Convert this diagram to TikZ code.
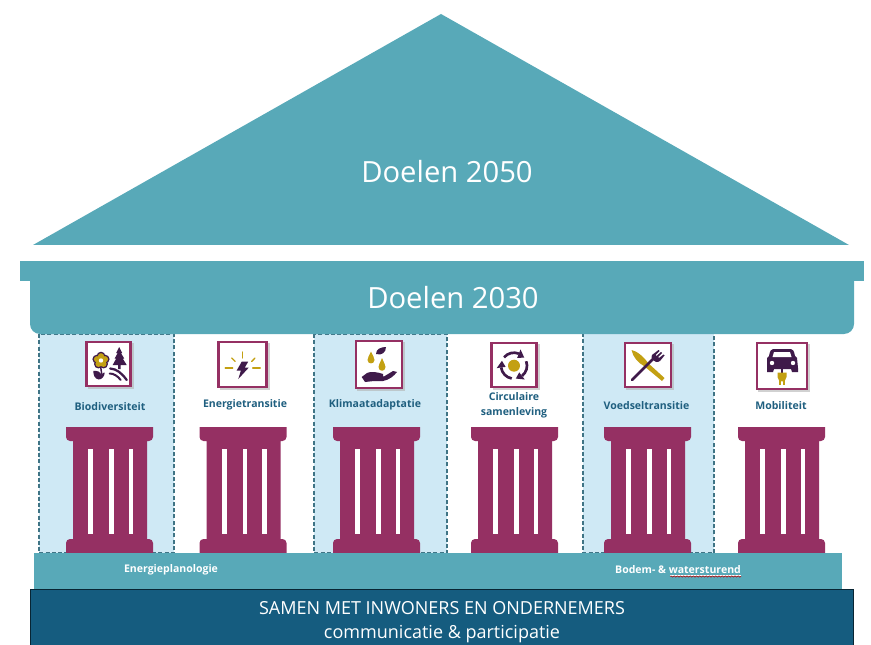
\documentclass[tikz,border=0pt]{standalone}
\usepackage{fontspec}
\setmainfont{Open Sans}
\usetikzlibrary{decorations.pathmorphing}
\definecolor{teal}{HTML}{58A9B8}
\definecolor{deepblue}{HTML}{155C7F}
\definecolor{panelblue}{HTML}{CFE9F5}
\definecolor{plum}{HTML}{953063}
\definecolor{inkplum}{HTML}{3F1A4A}
\definecolor{gold}{HTML}{C3A012}
\definecolor{labelblue}{HTML}{1F5F7F}
\definecolor{dashblue}{HTML}{3F7485}
\tikzset{
  x=0.75pt,y=-0.75pt,
  titletext/.style={text=white,inner sep=0,font=\fontsize{21.9}{26}\selectfont},
  pillarlabel/.style={text=labelblue,inner sep=0,align=center,font=\fontsize{7.9}{11.4}\selectfont\bfseries},
  baselabel/.style={text=white,inner sep=0,font=\fontsize{7.9}{9}\selectfont\bfseries},
  bandtext/.style={text=white,inner sep=0,font=\fontsize{13.5}{16}\selectfont},
  panel/.style={fill=panelblue,draw=dashblue,line width=0.8pt,dash pattern=on 3pt off 1.7pt},
  iconbox/.style={fill=white,draw=plum,line width=2.1pt},
  ink/.style={fill=inkplum,draw=none},
  goldfill/.style={fill=gold,draw=none},
  goldline/.style={draw=gold,line width=1pt,line cap=round},
  inkline/.style={draw=inkplum,line cap=round},
}
\newcommand{\columnshape}[1]{%
  \begin{scope}[shift={(#1,0)}]
    \fill[plum] (0,427) -- (87,427) -- (87,437) arc[start angle=0,end angle=90,radius=4] -- (81,441) -- (81,539) -- (83,539) arc[start angle=-90,end angle=0,radius=4] -- (87,553) -- (0,553) -- (0,543) arc[start angle=180,end angle=270,radius=4] -- (7,539) -- (7,441) -- (4,441) arc[start angle=90,end angle=180,radius=4] -- cycle;
    \fill[white] (22,449) rectangle (27,534);
    \fill[white] (43,449) rectangle (47.5,534);
    \fill[white] (62.5,449) rectangle (67,534);
  \end{scope}}
\newcommand{\iconframe}[4]{% x y w h
  \fill[black!30,opacity=.6] (#1+2,#2+2) rectangle ++(#3,#4);
  \draw[iconbox] (#1+1,#2+1) rectangle ++(#3-2,#4-2);}
\begin{document}
\begin{tikzpicture}
\useasboundingbox (0,0) rectangle (871,645);
% roof
\fill[teal] (441,14) -- (849,245) -- (33,245) -- cycle;
\node[titletext] (goals2050) at (447,172) {Doelen 2050};
% panels
\draw[panel] (39,334) rectangle (174,553);
\draw[panel] (314,334) rectangle (447,553);
\draw[panel] (583,333) rectangle (714,553);
% beam
\fill[teal] (20,261) rectangle (864,281);
\fill[teal] (30,281) -- (854,281) -- (854,324) arc[start angle=0,end angle=90,radius=10] -- (40,334) arc[start angle=90,end angle=180,radius=10] -- cycle;
\node[titletext] (goals2030) at (453,298) {Doelen 2030};
% columns
\columnshape{66}\columnshape{199.5}\columnshape{333}\columnshape{471}\columnshape{604}\columnshape{738}
% base
\fill[teal] (34,553) rectangle (842,589);
\draw[fill=deepblue,draw=black!60!deepblue,line width=0.9pt] (30.5,589.5) rectangle (853.5,650);
\node[bandtext] (together) at (442,608.5) {SAMEN MET INWONERS EN ONDERNEMERS};
\node[bandtext] (participation) at (442,634) {communicatie \& participatie};
\node[baselabel] (energyplan) at (171,570) {Energieplanologie};
\node[baselabel] (soilwater) at (678,570) {Bodem- \& watersturend};
\draw[white,line width=0.4pt] (670,575.2) -- (741,575.2);
\draw[red!75!black,line width=0.4pt,decorate,decoration={snake,amplitude=0.5pt,segment length=2.4pt}] (670,576.5) -- (741,576.5);
% labels
\node[pillarlabel] (biodiv) at (110,406.5) {Biodiversiteit};
\node[pillarlabel] (energy) at (245,405) {Energietransitie};
\node[pillarlabel] (climate) at (375,405) {Klimaatadaptatie};
\node[pillarlabel] (circular) at (514,405.5) {Circulaire\\samenleving};
\node[pillarlabel] (food) at (646.5,405.5) {Voedseltransitie};
\node[pillarlabel] (mobility) at (781,405.5) {Mobiliteit};
% icon 1
\iconframe{85.7}{341}{46}{46}
\begin{scope}[shift={(85.7,341)}]
  \draw[inkline,line width=1.1pt] (15,26) -- (16,33);
  \foreach \a in {270,342,54,126,198} \fill[inkplum] (15.3,19.5)+(\a:4.4) circle (4.4);
  \foreach \a in {270,342,54,126,198} \fill[gold] (15.3,19.5)+(\a:4.2) circle (3.1);
  \fill[gold] (15.3,19.5) circle (4.6);
  \fill[white] (15.3,19.5) circle (2.2);
  \fill[ink] (33.5,6) -- (36.5,12) -- (35.2,12) -- (38.5,17.5) -- (37,17.5) -- (41,24) -- (35,24) -- (35,28) -- (32.5,28) -- (32.5,24) -- (27,24) -- (30.5,17.5) -- (29,17.5) -- (32,12) -- (30.5,12) -- cycle;
  \draw[inkline,line width=1.7pt] (24.5,27.5) .. controls (31,28) and (36,32) .. (41,39);
  \draw[inkline,line width=1.5pt] (24,32.5) .. controls (28,32.5) and (32,35) .. (35,39);
  \fill[ink] (7.6,30) .. controls (12,29.5) and (15,31) .. (16,33.5) .. controls (17,32) and (18,31.5) .. (19,31.5) .. controls (19,35.5) and (16,38.5) .. (13,38.5) .. controls (9,38) and (7.6,34) .. (7.6,30) -- cycle;
\end{scope}
% icon 2
\iconframe{217.7}{341}{50}{47}
\begin{scope}[shift={(217.7,341)}]
  \draw[goldline] (25,11) -- (25,17);
  \draw[goldline] (7.5,27) -- (15,27);
  \draw[goldline] (35,27) -- (42.5,27);
  \draw[goldline] (14,17) -- (17.5,20.5);
  \draw[goldline] (37.3,17) -- (34,20.5);
  \fill[ink] (24,20.7) -- (30.5,20.7) -- (27,26.7) -- (31,26.7) -- (20.6,38) -- (23.2,29.5) -- (19,29.5) -- cycle;
\end{scope}
% icon 3
\iconframe{355}{340}{48}{49}
\begin{scope}[shift={(355,340)}]
  \fill[ink] (21,14) .. controls (21,9) and (26,7) .. (31,7) .. controls (31,12) and (27,16) .. (21,14) -- cycle;
  \fill[goldfill] (16,11.5) .. controls (18,16) and (19.5,18) .. (19.5,20) .. controls (19.5,24.5) and (12.5,24.5) .. (12.5,20) .. controls (12.5,18) and (14,16) .. (16,11.5) -- cycle;
  \fill[goldfill] (27,18) .. controls (29,23) and (30.5,25) .. (30.5,27) .. controls (30.5,32) and (23.5,32) .. (23.5,27) .. controls (23.5,25) and (25,23) .. (27,18) -- cycle;
  \fill[ink] (6.7,37) -- (12,33) .. controls (16,31) and (22,32) .. (28,34) -- (28,36) -- (21,36) -- (29,36.5) -- (38,31) -- (42,32) .. controls (39,36) and (34,40) .. (28,41) -- (19,41) -- (10,42) -- cycle;
\end{scope}
% icon 4
\iconframe{490.7}{342}{47}{46}
\begin{scope}[shift={(490.7,342)}]
  \fill[gold] (23.3,23.7) circle (6);
  \foreach \a in {0,120,240} {
    \draw[inkplum,line width=2pt] (23.3,23.7)++(220+\a:13) arc[start angle=220+\a,end angle=292+\a,radius=13];
    \fill[inkplum] (23.3,23.7)+(292+\a:8.5) -- +(292+\a:17.5) -- +(322+\a:13) -- cycle;
  }
\end{scope}
% icon 5
\iconframe{624}{342}{48}{46}
\begin{scope}[shift={(624,342)}]
  \fill[goldfill] (7.5,8) .. controls (13,9) and (20,15) .. (24,21) -- (40.5,36) -- (38,39) -- (20,24) .. controls (14,21) and (9,15) .. (7.5,8) -- cycle;
  \draw[inkline,line width=2pt] (8,38) -- (31,15);
  \fill[ink] (28,13) -- (34.5,8) -- (35.5,9) -- (31.5,13) -- (32.5,14) -- (37,10) -- (38,11) -- (34,15) -- (35,16) -- (39.5,12.5) -- (40.5,13.5) -- (36,19) .. controls (33,21) and (31,20) .. (29,18) .. controls (27.5,16) and (27,15) .. (28,13) -- cycle;
\end{scope}
% icon 6
\iconframe{756}{342}{52}{48}
\begin{scope}[shift={(756,342)}]
  \fill[ink] (17,7) -- (35,7) .. controls (37,7) and (38,9) .. (39,14) -- (41,16) -- (42,26) -- (42,30) -- (36,30) -- (35,27) -- (18,27) -- (17,30) -- (11,30) -- (11,16) -- (13,14) .. controls (14,9) and (15,7) .. (17,7) -- cycle;
  \fill[white] (18,10) -- (34,10) -- (35.5,15) -- (16.5,15) -- cycle;
  \fill[white] (16,21) circle (2.2);
  \fill[white] (37,21) circle (2.2);
  \draw[inkline,line width=1pt] (26,27) -- (26,31);
  \fill[goldfill] (21.5,30.5) -- (30.5,30.5) -- (30.5,35) .. controls (30.5,38) and (28,39.5) .. (26,39.5) .. controls (24,39.5) and (21.5,38) .. (21.5,35) -- cycle;
  \fill[goldfill] (22.8,38) rectangle (24.6,43);
  \fill[goldfill] (27.4,38) rectangle (29.2,43);
\end{scope}
\end{tikzpicture}
\end{document}
